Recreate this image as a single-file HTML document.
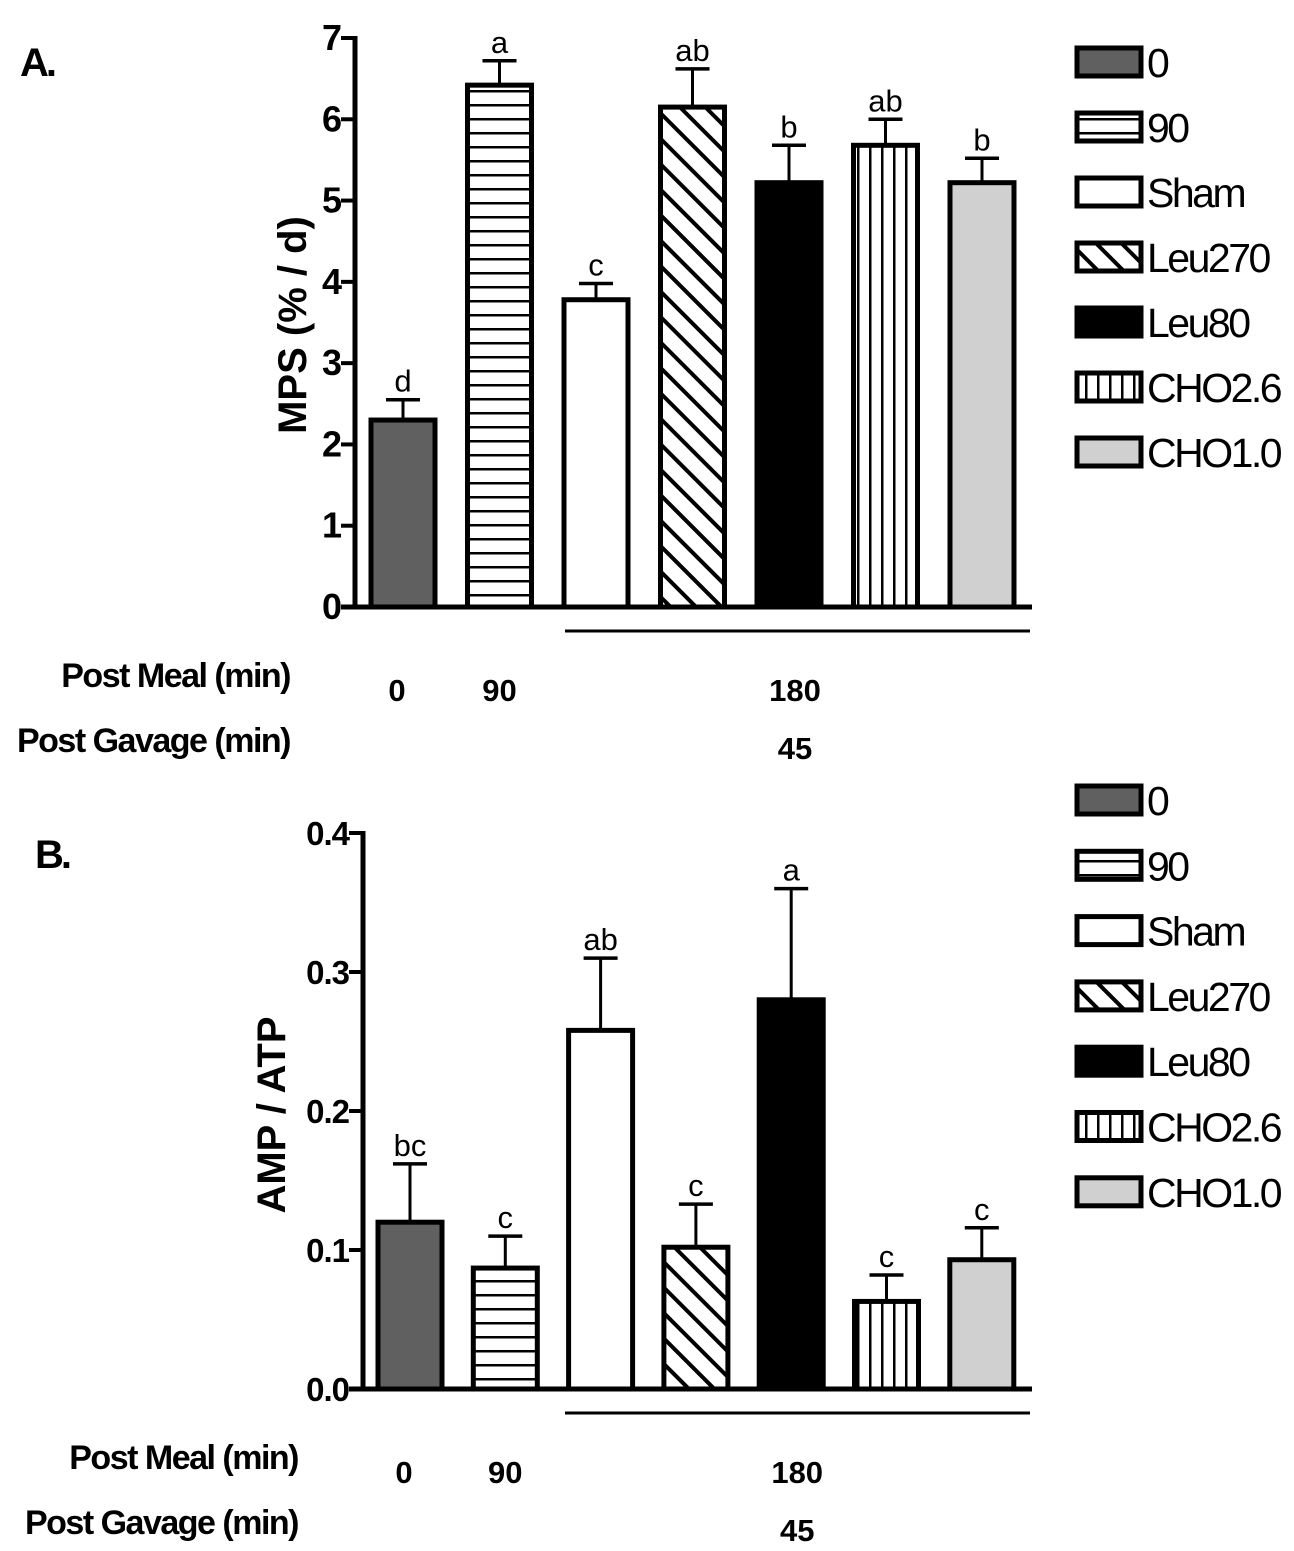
<!DOCTYPE html>
<html><head><meta charset="utf-8"><style>
body{margin:0;background:#fff}
svg{display:block}
text{font-family:"Liberation Sans",sans-serif}
</style></head><body>
<svg id="s" width="1294" height="1551" viewBox="0 0 1294 1551">
<defs>
<pattern id="ph" width="8" height="14" patternUnits="userSpaceOnUse"><rect width="8" height="14" fill="#fff"/><rect y="6" width="8" height="2.5" fill="#000"/></pattern>
<pattern id="pv" width="12" height="8" patternUnits="userSpaceOnUse"><rect width="12" height="8" fill="#fff"/><rect x="5" width="2.5" height="8" fill="#000"/></pattern>
<pattern id="pd" width="18" height="18" patternUnits="userSpaceOnUse" patternTransform="rotate(-45)"><rect width="18" height="18" fill="#fff"/><rect x="7" width="4" height="18" fill="#000"/></pattern>
</defs>
</svg>
<script>
const groups = ["0","90","Sham","Leu270","Leu80","CHO2.6","CHO1.0"];
const mpsValues = [2.3, 6.42, 3.78, 6.15, 5.22, 5.68, 5.22];
const mpsErrors = [2.55, 6.72, 3.98, 6.62, 5.68, 6.0, 5.52];
const mpsLetters = ["d","a","c","ab","b","ab","b"];
const mpsTicks = ["0","1","2","3","4","5","6","7"];
const ampValues = [0.12, 0.087, 0.258, 0.102, 0.28, 0.063, 0.093];
const ampErrors = [0.162, 0.11, 0.31, 0.133, 0.36, 0.082, 0.116];
const ampLetters = ["bc","c","ab","c","a","c","c"];
const ampTicks = ["0.0","0.1","0.2","0.3","0.4"];
const fills = ["#606060","url(#ph)","#fff","url(#pd)","#000","url(#pv)","#d0d0d0"];
const svg = document.getElementById('s');
const NS = "http://www.w3.org/2000/svg";
function mk(tag, attrs, parent, txt){const e=document.createElementNS(NS,tag);for(const k in attrs)e.setAttribute(k,attrs[k]);if(txt!==undefined)e.textContent=txt;(parent||svg).appendChild(e);return e;}
function panel(cfg){
  const g=mk('g',{});
  
  
  const y=v=>cfg.y0-(v-cfg.min)/(cfg.max-cfg.min)*(cfg.y0-cfg.yTop);
  const x=i=>cfg.x0+i*cfg.step;
  cfg.values.forEach((v,i)=>{
    const cx=x(i), w=64;
    const ey=y(cfg.errors[i]);
    const l=mk('line',{x1:cx,x2:cx,y1:y(v),y2:ey,stroke:'#000','stroke-width':3},g);
    
    
    const c=mk('line',{x1:cx-17,x2:cx+17,y1:ey,y2:ey,stroke:'#000','stroke-width':3.5},g);
    
    
    const r=mk('rect',{x:cx-w/2,y:y(v),width:w,height:cfg.y0-y(v),fill:fills[i],stroke:'#000','stroke-width':5},g);
    
    
    const t=mk('text',{x:cx,y:ey-8,'font-size':31,'text-anchor':'middle'},g,cfg.letters[i]);
    
    
  });
  const ax=mk('line',{x1:cfg.ax,x2:cfg.ax,y1:cfg.yTop-2,y2:cfg.y0+2,stroke:'#000','stroke-width':5},g);
  
  
  const bx=mk('line',{x1:cfg.ax-14,x2:1032,y1:cfg.y0,y2:cfg.y0,stroke:'#000','stroke-width':5},g);
  
  
  cfg.ticks.forEach((t,i)=>{
    const v=cfg.min+i*cfg.tstep;
    mk('line',{x1:cfg.ax-14,x2:cfg.ax,y1:y(v),y2:y(v),stroke:'#000','stroke-width':4},g);
    const tt=mk('text',{x:cfg.ax-14,y:y(v)+12,'font-size':cfg.tfs,'text-anchor':'end','font-weight':'bold','letter-spacing':-1},g,t);
    
    
  });
  const yl=mk('text',{x:0,y:0,'font-size':40,'font-weight':'bold','text-anchor':'middle',transform:`translate(${cfg.ylx},${cfg.yly}) rotate(-90)`},g,cfg.ylabel);
  
  
  mk('line',{x1:565,x2:1030,y1:cfg.y0+24,y2:cfg.y0+24,stroke:'#000','stroke-width':3},g);
  const pl=mk('text',{x:cfg.plx,y:cfg.y0+80,'font-size':34,'font-weight':'bold','text-anchor':'end','letter-spacing':-1.5},g,'Post Meal (min)');
  
  const gl=mk('text',{x:cfg.plx,y:cfg.y0+145,'font-size':34,'font-weight':'bold','text-anchor':'end','letter-spacing':-1.5},g,'Post Gavage (min)');
  
  [['0',x(0)-6],['90',x(1)],['180',x(4)+6]].forEach(a=>mk('text',{x:a[1],y:cfg.y0+94,'font-size':31,'font-weight':'bold','text-anchor':'middle'},g,a[0]));
  mk('text',{x:x(4)+6,y:cfg.y0+152,'font-size':31,'font-weight':'bold','text-anchor':'middle'},g,'45');
  const pt=mk('text',{x:cfg.px,y:cfg.py,'font-size':40,'font-weight':'bold','letter-spacing':-3},g,cfg.title);
  
  groups.forEach((n,i)=>{
    const cy=cfg.leg[0]+i*cfg.leg[1];
    const lg=mk('g',{},g);
    
    
    mk('rect',{x:1077,y:cy-14,width:64,height:28,fill:fills[i],stroke:'#000','stroke-width':5},lg);
    mk('text',{x:1147,y:cy+15,'font-size':41,'letter-spacing':-2.5},lg,n);
  });
}
panel({name:'panel-a-mps',values:mpsValues,errors:mpsErrors,letters:mpsLetters,ticks:mpsTicks,min:0,max:7,tstep:1,y0:607,yTop:38,ax:355,x0:403,step:96.5,tfs:36,ylabel:'MPS (% / d)',ylx:306,yly:325,plx:290,px:20,py:76,title:'A.',leg:[62,65]});
panel({name:'panel-b-amp-atp',values:ampValues,errors:ampErrors,letters:ampLetters,ticks:ampTicks,min:0,max:0.4,tstep:0.1,y0:1389,yTop:833,ax:363,x0:410,step:95.3,tfs:33,ylabel:'AMP / ATP',ylx:285,yly:1115,plx:298,px:35,py:868,title:'B.',leg:[800,65.3]});
</script>
</body></html>
